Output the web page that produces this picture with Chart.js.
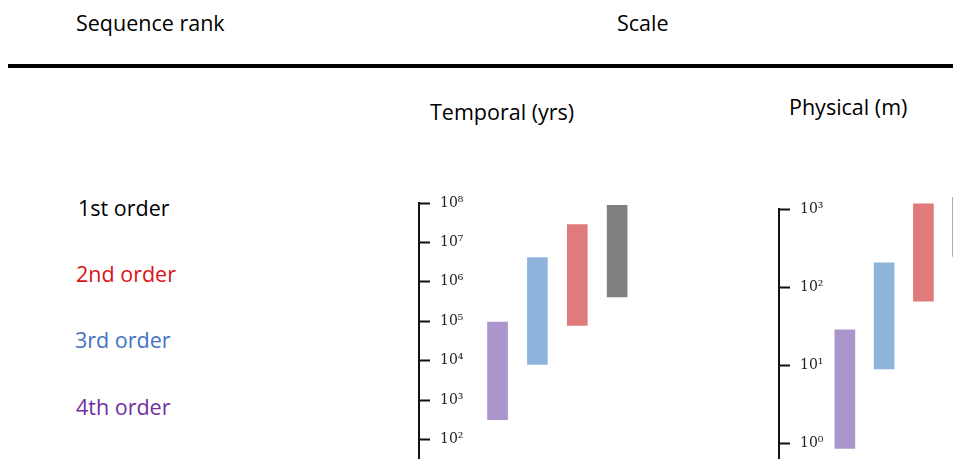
<!DOCTYPE html>
<html>
<head>
<meta charset="utf-8">
<script src="https://cdn.jsdelivr.net/npm/chart.js"></script>
<style>
  body { margin: 0; width: 953px; height: 459px; overflow: hidden; background: #fff; position: relative; font-family: 'Open Sans', sans-serif; }
  .txt { position: absolute; font-size: 21.5px; line-height: 21.5px; white-space: nowrap; color: #000; }
  #rule { position: absolute; left: 8px; top: 64px; width: 945px; height: 4px; background: #000; }
  canvas { position: absolute; }
</style>
</head>
<body>
<div class="txt" style="left:76px; top:12px;">Sequence rank</div>
<div class="txt" style="left:617px; top:12px;">Scale</div>
<div id="rule"></div>
<div class="txt" style="left:430px; top:101px;">Temporal (yrs)</div>
<div class="txt" style="left:789px; top:96px;">Physical (m)</div>
<div id="rankLabels"></div>

<canvas id="temporal" width="258" height="288" style="left:399px; top:191px;"></canvas>
<canvas id="physical" width="243" height="287" style="left:759px; top:197px;"></canvas>

<script>
// sequence ranks, top to bottom in the left column
var ranks = ['1st order', '2nd order', '3rd order', '4th order'];
var rankColors = ['#000000', '#d9121b', '#4472c4', '#7030a0'];

// bars are drawn left to right from 4th order up to 1st order
var barRanks = ['4th order', '3rd order', '2nd order', '1st order'];
var barColors = ['#aa95cc', '#8fb4dc', '#e07b7c', '#7f7f7f'];

// temporal scale (years), low / high end of each range
var temporalLow = [322, 8100, 79000, 414000];
var temporalHigh = [96000, 4100000, 28300000, 87000000];
var temporalTicks = [1e2, 1e3, 1e4, 1e5, 1e6, 1e7, 1e8];
var temporalTickLabels = ['10²', '10³', '10⁴', '10⁵', '10⁶', '10⁷', '10⁸'];

// physical scale (metres)
var physicalLow = [0.86, 8.95, 66, 247];
var physicalHigh = [28.3, 205, 1168, 3900];
var physicalTicks = [1, 10, 100, 1000];
var physicalTickLabels = ['10⁰', '10¹', '10²', '10³'];

// left column labels
var rowTops = [197, 263, 329, 396];
var rowLefts = [78, 76, 75, 76];
var holder = document.getElementById('rankLabels');
ranks.forEach(function (r, i) {
  var d = document.createElement('div');
  d.className = 'txt';
  d.style.left = rowLefts[i] + 'px';
  d.style.top = rowTops[i] + 'px';
  d.style.color = rankColors[i];
  d.textContent = r;
  holder.appendChild(d);
});

function makeChart(id, lows, highs, ticks, tickLabels, yMin, yMax, xMin, xMax) {
  var pts = barRanks.map(function (r, i) {
    return { x: i, y: [lows[i], highs[i]] };
  });
  return new Chart(document.getElementById(id), {
    type: 'bar',
    data: {
      datasets: [{
        label: id,
        data: pts,
        backgroundColor: barColors,
        barThickness: 20,
        clip: false
      }]
    },
    options: {
      responsive: false,
      animation: false,
      layout: { padding: { top: 12, left: 0, right: 0, bottom: 0 } },
      plugins: { legend: { display: false }, tooltip: { enabled: false } },
      scales: {
        x: { type: 'linear', min: xMin, max: xMax, display: false, offset: false },
        y: {
          type: 'logarithmic',
          position: 'left',
          min: yMin,
          max: yMax,
          afterBuildTicks: function (s) {
            s.ticks = ticks.map(function (v) { return { value: v }; });
          },
          // keep the axis thin and stop chart.js padding the area for the labels
          afterFit: function (s) {
            s.width = 20;
            s.paddingTop = 0; s.paddingBottom = 0; s.paddingLeft = 0; s.paddingRight = 0;
          },
          ticks: {
            mirror: true,
            padding: 21,
            autoSkip: false,
            color: '#222',
            font: { family: 'DejaVu Serif', size: 14 },
            callback: function (v) { return tickLabels[ticks.indexOf(v)]; }
          },
          grid: { drawOnChartArea: false, drawTicks: true, tickLength: -11, tickWidth: 2, color: '#111' },
          border: { display: true, color: '#111', width: 2 }
        }
      }
    }
  });
}

makeChart('temporal', temporalLow, temporalHigh, temporalTicks, temporalTickLabels, 10, 1e8, -1.97, 4);
makeChart('physical', physicalLow, physicalHigh, physicalTicks, physicalTickLabels, Math.pow(10, -0.5), 1e3, -1.676, 4);
</script>
</body>
</html>
